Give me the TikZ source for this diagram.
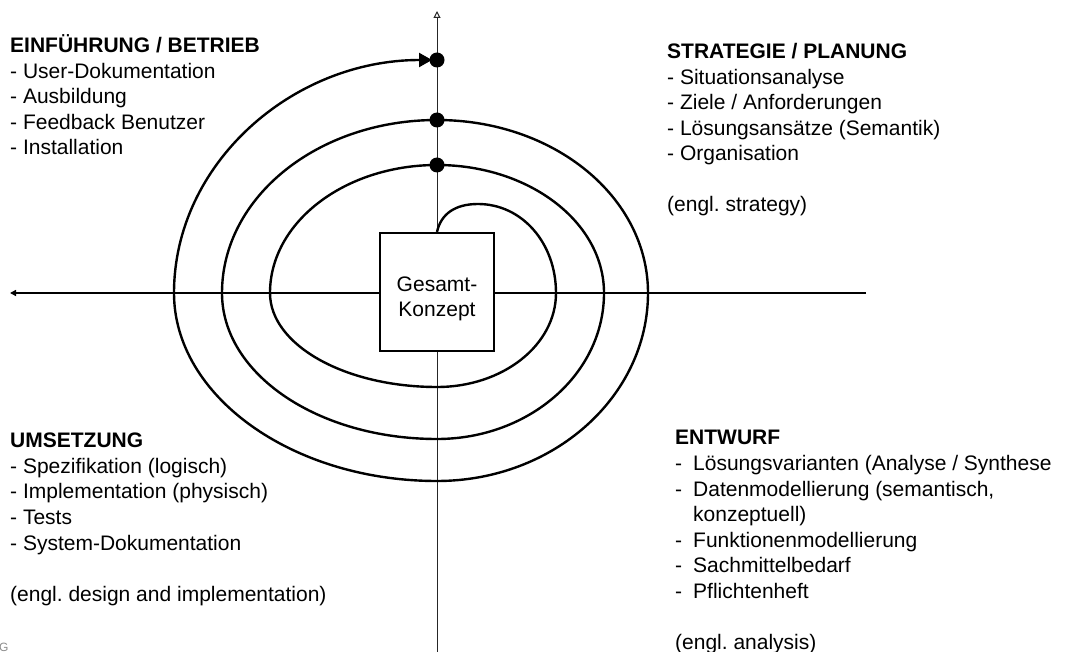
\documentclass[tikz,border=0pt]{standalone}
\usepackage{fontspec}
\setmainfont{Liberation Sans}
\usetikzlibrary{arrows.meta}
\frenchspacing
\begin{document}
\begin{tikzpicture}[x=1pt,y=-1pt,
  txt/.style={anchor=base west,inner sep=0pt,font=\fontsize{21}{25}\selectfont},
  ttl/.style={anchor=base west,inner sep=0pt,font=\fontsize{21}{25}\selectfont\bfseries},
  ctr/.style={anchor=base,inner sep=0pt,font=\fontsize{21}{25}\selectfont},
  spiralline/.style={line width=2.4pt,line join=round},
  dot/.style={circle,fill=black,inner sep=0pt,minimum size=15pt},
  box/.style={draw,line width=2.2pt,fill=white,minimum width=114pt,minimum height=118pt,inner sep=0pt}]
\useasboundingbox (0,0) rectangle (1066,652);

% axes
\coordinate (vtop) at (437,11);
\coordinate (vbot) at (437,652);
\coordinate (hleft) at (10,293);
\coordinate (hright) at (866,293);
\draw[line width=1pt,black!85,-{Triangle[open,length=7pt,width=7pt]}] (vbot) -- (vtop);
\draw[line width=1.8pt,-{Triangle[length=6pt,width=6pt]}] (hright) -- (hleft);

% central box
\node[box] (gk) at (437,292) {};
\node[ctr] (gk1) at (437,292) {Gesamt-};
\node[ctr] (gk2) at (437,317) {Konzept};

% milestones on the vertical axis
\coordinate (m1) at (437,165);
\coordinate (m2) at (437,120);
\coordinate (m3) at (437,60);

% the spiral
\draw[spiralline,-{Triangle[length=13pt,width=14pt]},shorten >=5pt]
  (gk.north) .. controls (441,214) and (455,204) .. (478,204)
  .. controls (522,204) and (556,243) .. (556,293)
  .. controls (556,345) and (503,387) .. (437,387)
  .. controls (345,387) and (270,345) .. (270,293)
  .. controls (270,222) and (345,165) .. (m1)
  .. controls (529,165) and (604,222) .. (604,293)
  .. controls (604,374) and (529,439) .. (437,439)
  .. controls (318,439) and (222,374) .. (222,293)
  .. controls (222,197) and (318,120) .. (m2)
  .. controls (554,120) and (648,197) .. (648,293)
  .. controls (648,396) and (554,481) .. (437,481)
  .. controls (292,481) and (174,396) .. (174,293)
  .. controls (174,164) and (292,60) .. (m3);

\node[dot] (d1) at (m1) {};
\node[dot] (d2) at (m2) {};
\node[dot] (d3) at (m3) {};

% top left
\node[ttl] (tlh) at (10,53) {EINFÜHRUNG / BETRIEB};
\node[txt] (tl1) at (10,78.5) {- User-Dokumentation};
\node[txt] (tl2) at (10,104) {- Ausbildung};
\node[txt] (tl3) at (10,129.5) {- Feedback Benutzer};
\node[txt] (tl4) at (10,155) {- Installation};

% top right
\node[ttl] (trh) at (667,59) {STRATEGIE / PLANUNG};
\node[txt] (tr1) at (667,84.5) {- Situationsanalyse};
\node[txt] (tr2) at (667,110) {- Ziele / Anforderungen};
\node[txt] (tr3) at (667,135.5) {- Lösungsansätze (Semantik)};
\node[txt] (tr4) at (667,161) {- Organisation};
\node[txt] (tr5) at (667,212) {(engl. strategy)};

% bottom left
\node[ttl] (blh) at (10,447) {UMSETZUNG};
\node[txt] (bl1) at (10,473) {- Spezifikation (logisch)};
\node[txt] (bl2) at (10,498.5) {- Implementation (physisch)};
\node[txt] (bl3) at (10,524) {- Tests};
\node[txt] (bl4) at (10,550) {- System-Dokumentation};
\node[txt] (bl5) at (10,601) {(engl. design and implementation)};

% bottom right
\node[ttl] (brh) at (675,444) {ENTWURF};
\node[txt] (br1) at (675,470) {\makebox[18pt][l]{-}Lösungsvarianten (Analyse / Synthese};
\node[txt] (br2) at (675,496) {\makebox[18pt][l]{-}Datenmodellierung (semantisch,};
\node[txt] (br3) at (693,521.5) {konzeptuell)};
\node[txt] (br4) at (675,547) {\makebox[18pt][l]{-}Funktionenmodellierung};
\node[txt] (br5) at (675,572.5) {\makebox[18pt][l]{-}Sachmittelbedarf};
\node[txt] (br6) at (675,598) {\makebox[18pt][l]{-}Pflichtenheft};
\node[txt] (br7) at (675,649) {(engl. analysis)};

% stray label in the corner
\node[anchor=base west,inner sep=0pt,font=\fontsize{12}{12}\selectfont,text=black!45] (g) at (-1,651) {G};
\end{tikzpicture}
\end{document}
